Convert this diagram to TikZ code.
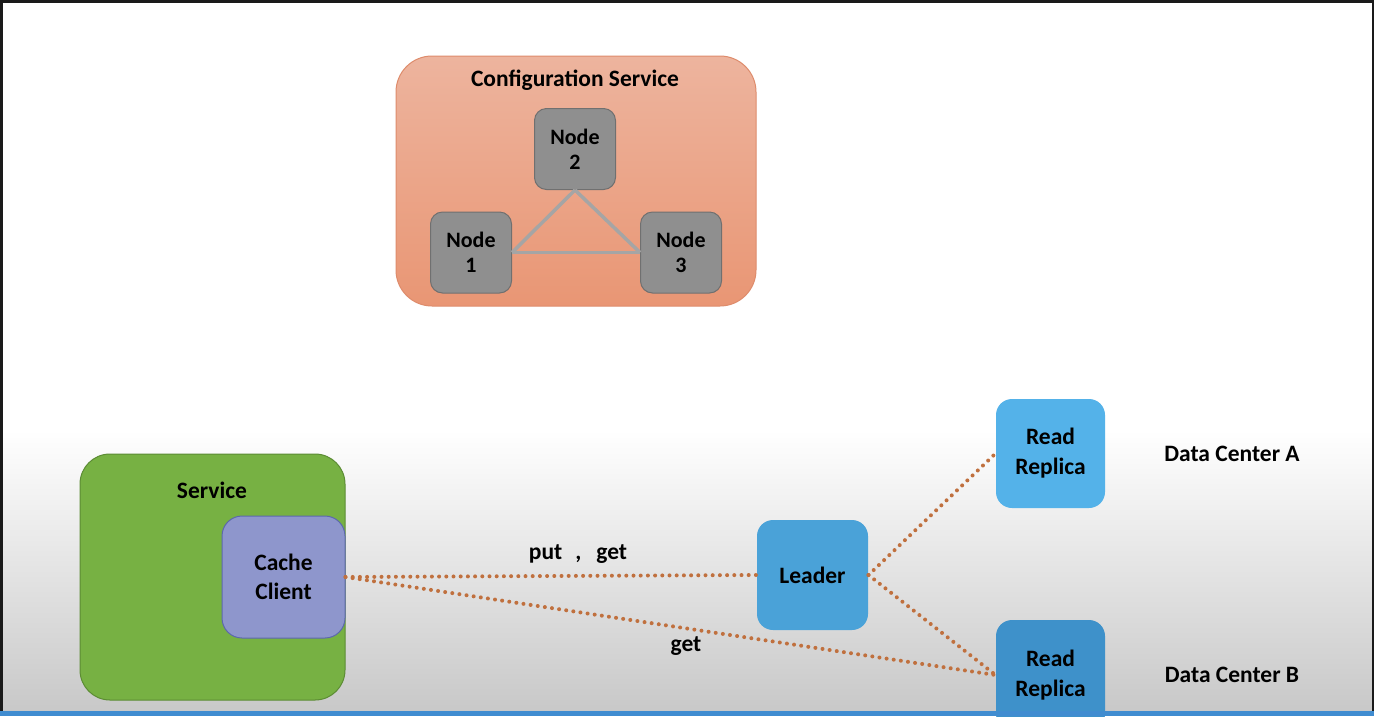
\documentclass[tikz,border=0pt]{standalone}
\usepackage{fontspec}
\setmainfont{Carlito}
\definecolor{cfgtop}{RGB}{237,180,158}
\definecolor{cfgbot}{RGB}{233,150,116}
\definecolor{cfgline}{RGB}{222,140,108}
\definecolor{nodegray}{RGB}{143,143,143}
\definecolor{nodeline}{RGB}{112,112,112}
\definecolor{triline}{RGB}{165,165,165}
\definecolor{svcgreen}{RGB}{119,177,67}
\definecolor{svcline}{RGB}{92,140,52}
\definecolor{cachefill}{RGB}{142,150,204}
\definecolor{cacheline}{RGB}{92,104,172}
\definecolor{leaderfill}{RGB}{74,162,216}
\definecolor{rrafill}{RGB}{84,178,233}
\definecolor{rrbfill}{RGB}{62,145,202}
\definecolor{blueline}{RGB}{64,140,208}
\definecolor{dotcol}{RGB}{192,112,62}
\definecolor{frame}{RGB}{26,26,26}
\definecolor{bggray}{RGB}{200,200,200}
\begin{document}
\begin{tikzpicture}[x=1pt,y=-1pt,
  lbl/.style={font=\bfseries\fontsize{23.5}{28}\selectfont, align=center, text=black},
  box/.style={draw, line width=1pt, inner sep=0pt, align=center, font=\bfseries\fontsize{23.5}{29}\selectfont},
  graybox/.style={box, fill=nodegray, draw=nodeline, rounded corners=12pt, minimum width=81pt, minimum height=81pt, font=\bfseries\fontsize{22}{25}\selectfont},
  bluebox/.style={box, draw=none, rounded corners=16pt, minimum width=110pt, minimum height=110pt, font=\bfseries\fontsize{23.5}{30}\selectfont},
  dots/.style={dotcol, line width=4pt, line cap=round, dash pattern=on 0pt off 7.2pt},
  tri/.style={triline, line width=3.5pt}
]
\useasboundingbox (0,0) rectangle (1374,716);
\clip (0,0) rectangle (1374,716);
% background
\fill[white] (0,0) rectangle (1374,716);
\shade[top color=white, bottom color=bggray] (0,430) rectangle (1374,712);
% frame
\fill[frame] (0,0) rectangle (1374,3);
\fill[frame] (0,0) rectangle (2.5,716);
\fill[frame] (1371.5,0) rectangle (1374,716);

% configuration service
\node[box, draw=cfgline, top color=cfgtop, bottom color=cfgbot, rounded corners=36pt,
      minimum width=360pt, minimum height=250pt] (cfg) at (576,181) {};
\node[lbl] (cfgt) at (575,80.5) {Configuration Service};
\node[graybox] (n2) at (575,149) {Node\\2};
\node[graybox] (n1) at (471,252.5) {Node\\1};
\node[graybox] (n3) at (681,252.5) {Node\\3};
\draw[tri] (n1.east) -- (n2.south);
\draw[tri] (n2.south) -- (n3.west);
\draw[tri] (n1.east) -- (n3.west);

% service
\node[box, fill=svcgreen, draw=svcline, rounded corners=30pt,
      minimum width=265pt, minimum height=246pt] (svc) at (212.5,577) {};
\node[lbl] (svct) at (212,490) {Service};
\node[box, fill=cachefill, draw=cacheline, rounded corners=20pt,
      minimum width=123pt, minimum height=122pt] (cc) at (283.5,577) {Cache\\Client};

% leader and replicas
\node[bluebox, fill=leaderfill, minimum width=111pt] (ld) at (812.5,575) {Leader};
\node[bluebox, fill=rrafill, minimum width=109pt, minimum height=109pt] (rra) at (1050.5,453.5) {Read\\Replica};
\node[bluebox, fill=rrbfill, minimum width=109pt] (rrb) at (1050.5,675) {Read\\Replica};

% connectors
\draw[dots] (cc.east) -- (ld.west);
\draw[dots] (cc.east) -- (rrb.west);
\draw[dots] (ld.east) -- (rra.west);
\draw[dots] (ld.east) -- (rrb.west);

\node[lbl] (pg) at (578,554) {put\hspace{13pt},\hspace{15pt}get};
\node[lbl] (g) at (686,646) {get};
\node[lbl] (dca) at (1232,454) {Data Center A};
\node[lbl] (dcb) at (1232,675) {Data Center B};

% bottom line
\fill[blueline] (0,711) rectangle (1374,716);
\end{tikzpicture}
\end{document}
